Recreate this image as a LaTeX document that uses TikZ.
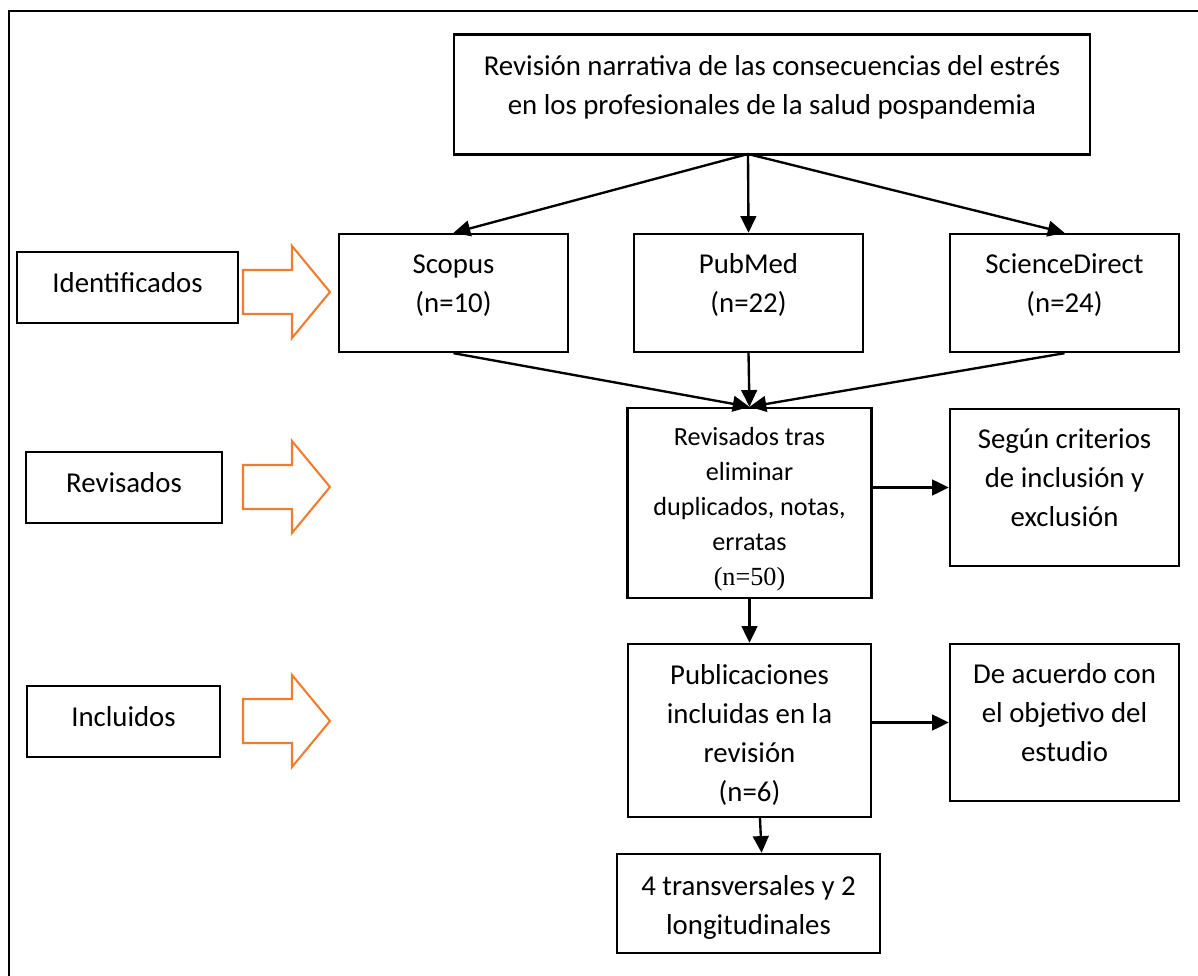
\documentclass[tikz,border=0pt]{standalone}
\usepackage{fontspec}
\setmainfont{Carlito}
\newfontfamily\timesfont{Liberation Serif}
\usetikzlibrary{arrows.meta}
\definecolor{arrorange}{RGB}{237,125,49}

\begin{document}
\begin{tikzpicture}[x=0.382pt, y=-0.382pt,
  >={Triangle[length=6.4pt,width=6pt]},
  every node/.style={font=\fontsize{11}{14.9}\selectfont},
  box/.style={draw, line width=0.9pt, align=center, inner sep=0pt},
  size/.style 2 args={minimum width=#1*0.382pt, minimum height=#2*0.382pt},
  flow/.style={->, line width=0.9pt},
  fatarrow/.style={draw=arrorange, line width=0.8pt}]
 \useasboundingbox (0,0) rectangle (1198,976);
 \draw[line width=0.9pt] (9,976) -- (9,11) -- (1198,11);
 % main column
 \node[box, size={636}{120}] (title) at (772,94.5) {Revisión narrativa de las consecuencias del estrés\\en los profesionales de la salud pospandemia\\[-7.6pt]\mbox{}};
 \coordinate (fork) at (748,154);
 \node[box, size={229}{118}] (scopus) at (453.5,293) {Scopus\\(n=10)\\[-7.6pt]\mbox{}};
 \node[box, size={229}{118}] (pubmed) at (748.5,293) {PubMed\\(n=22)\\[-7.6pt]\mbox{}};
 \node[box, size={229}{118}] (scidir) at (1064.5,293) {ScienceDirect\\(n=24)\\[-7.6pt]\mbox{}};
 \node[box, size={244}{190}, font=\fontsize{10}{13.4}\selectfont] (revis) at (749.5,503) {\rule{0pt}{11.6pt}Revisados tras\\eliminar\\duplicados, notas,\\erratas\\{\timesfont (n=50)}};
 \node[box, size={229}{157}] (segun) at (1064.5,487.5) {Según criterios\\de inclusión y\\exclusión\\[-7.6pt]\mbox{}};
 \node[box, size={243}{173}] (pub) at (749.5,730.5) {\rule{0pt}{11pt}Publicaciones\\incluidas en la\\revisión\\(n=6)};
 \node[box, size={229}{157}] (acuerdo) at (1064.5,722.5) {De acuerdo con\\el objetivo del\\estudio\\[-7.6pt]\mbox{}};
 \node[box, size={263}{99}] (final) at (748.5,903.5) {\rule{0pt}{10.5pt}4 transversales y 2\\longitudinales};
 % stages
 \node[box, size={221}{71}, text depth=4pt] (ident) at (127.5,287.5) {Identificados};
 \node[box, size={196}{71}, text depth=4pt] (revlab) at (124,487.5) {Revisados};
 \node[box, size={193}{71}, text depth=4pt] (inclab) at (123.5,721.5) {Incluidos};
 \foreach \yy in {292,487,721}
  \draw[fatarrow] (243,\yy-22) -- (292,\yy-22) -- (292,\yy-46) -- (330,\yy)
   -- (292,\yy+46) -- (292,\yy+22) -- (243,\yy+22) -- cycle;
 % connectors
 \draw[flow] (fork) -- (scopus.north);
 \draw[flow] (fork) -- (pubmed.north);
 \draw[flow] (fork) -- (scidir.north);
 \draw[flow] (scopus.south) -- (revis.north);
 \draw[flow] (pubmed.south) -- (revis.north);
 \draw[flow] (scidir.south) -- (revis.north);
 \draw[flow] (revis.east |- segun.west) -- (segun.west);
 \draw[flow] (revis.south) -- (pub.north);
 \draw[flow] (pub.east |- acuerdo.west) -- (acuerdo.west);
 \draw[flow] ([xshift=4pt]pub.south) -- ([xshift=5pt]final.north);
\end{tikzpicture}
\end{document}
